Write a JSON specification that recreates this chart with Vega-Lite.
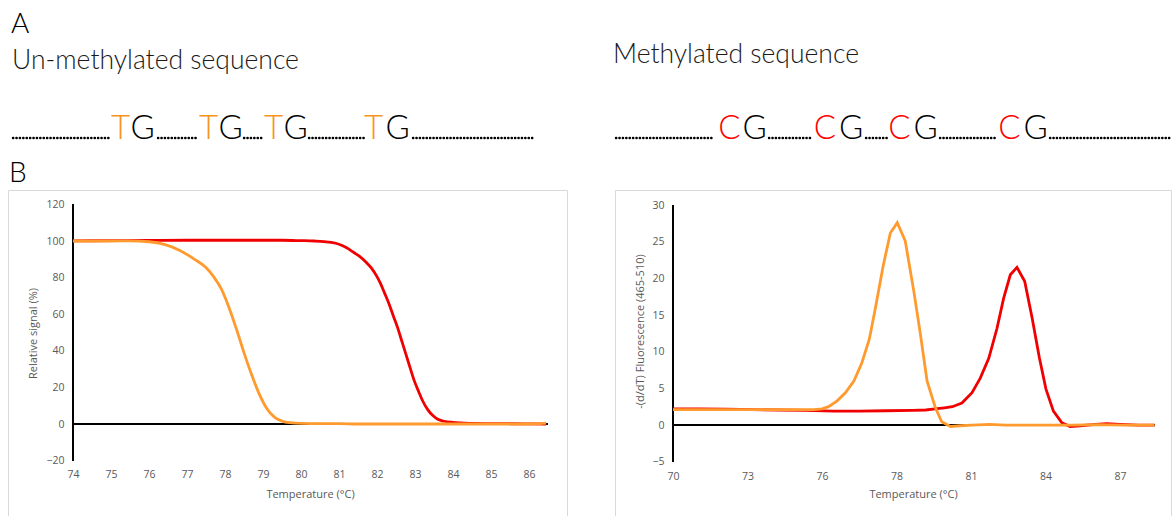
{
  "$schema": "https://vega.github.io/schema/vega-lite/v6.json",
  "padding": {"left": 7, "top": 0, "right": 0, "bottom": 0},
  "spacing": 0,
  "config": {
    "view": {"stroke": "#d9d9d9"},
    "axis": {
      "labelFont": "Open Sans",
      "labelFontSize": 10.5,
      "labelColor": "#595959",
      "titleFont": "Open Sans",
      "titleFontSize": 11,
      "titleColor": "#595959",
      "titleFontWeight": "normal",
      "grid": false,
      "domain": false,
      "ticks": false,
      "labelFlush": false,
      "labelOverlap": false
    }
  },
  "datasets": {
    "panels": [
      {"text": "A", "x": 10, "y": 33},
      {"text": "B", "x": 8, "y": 182}
    ],
    "headings": [
      {"text": "Un-methylated sequence", "x": 11, "y": 69},
      {"text": "Methylated sequence", "x": 612, "y": 63}
    ],
    "bases": [
      {"text": "T", "x": 119.5, "y": 139},
      {"text": "G", "x": 141.5, "y": 139},
      {"text": "T", "x": 207.5, "y": 139},
      {"text": "G", "x": 229.5, "y": 139},
      {"text": "T", "x": 272.5, "y": 139},
      {"text": "G", "x": 294.5, "y": 139},
      {"text": "T", "x": 372.5, "y": 139},
      {"text": "G", "x": 396.5, "y": 139},
      {"text": "C", "x": 728.5, "y": 139},
      {"text": "G", "x": 753.5, "y": 139},
      {"text": "C", "x": 824, "y": 139},
      {"text": "G", "x": 850, "y": 139},
      {"text": "C", "x": 898.5, "y": 139},
      {"text": "G", "x": 924.5, "y": 139},
      {"text": "C", "x": 1008.5, "y": 139},
      {"text": "G", "x": 1034.5, "y": 139}
    ],
    "dots": [
      {"x": 12, "x2": 110, "y": 138},
      {"x": 157, "x2": 197, "y": 138},
      {"x": 243, "x2": 263, "y": 138},
      {"x": 308, "x2": 365, "y": 138},
      {"x": 412, "x2": 532, "y": 138},
      {"x": 615, "x2": 713, "y": 138},
      {"x": 768, "x2": 810, "y": 138},
      {"x": 865, "x2": 887, "y": 138},
      {"x": 939, "x2": 996, "y": 138},
      {"x": 1049, "x2": 1170, "y": 138}
    ],
    "melt": [
      {"temp": 74, "signal": 100.1, "sample": "methylated"},
      {"temp": 75, "signal": 100.2, "sample": "methylated"},
      {"temp": 76, "signal": 100.3, "sample": "methylated"},
      {"temp": 77, "signal": 100.4, "sample": "methylated"},
      {"temp": 78, "signal": 100.4, "sample": "methylated"},
      {"temp": 79, "signal": 100.4, "sample": "methylated"},
      {"temp": 79.5, "signal": 100.4, "sample": "methylated"},
      {"temp": 80, "signal": 100.2, "sample": "methylated"},
      {"temp": 80.35, "signal": 100, "sample": "methylated"},
      {"temp": 80.6, "signal": 99.7, "sample": "methylated"},
      {"temp": 80.8, "signal": 99.2, "sample": "methylated"},
      {"temp": 81, "signal": 98.2, "sample": "methylated"},
      {"temp": 81.2, "signal": 96.3, "sample": "methylated"},
      {"temp": 81.4, "signal": 93.6, "sample": "methylated"},
      {"temp": 81.55, "signal": 91.5, "sample": "methylated"},
      {"temp": 81.7, "signal": 88.7, "sample": "methylated"},
      {"temp": 81.85, "signal": 85.3, "sample": "methylated"},
      {"temp": 82, "signal": 80.5, "sample": "methylated"},
      {"temp": 82.1, "signal": 76.4, "sample": "methylated"},
      {"temp": 82.2, "signal": 71.5, "sample": "methylated"},
      {"temp": 82.32, "signal": 65.5, "sample": "methylated"},
      {"temp": 82.43, "signal": 59, "sample": "methylated"},
      {"temp": 82.54, "signal": 52.8, "sample": "methylated"},
      {"temp": 82.65, "signal": 45.5, "sample": "methylated"},
      {"temp": 82.76, "signal": 38.2, "sample": "methylated"},
      {"temp": 82.87, "signal": 30.8, "sample": "methylated"},
      {"temp": 82.98, "signal": 23.7, "sample": "methylated"},
      {"temp": 83.1, "signal": 17.5, "sample": "methylated"},
      {"temp": 83.2, "signal": 12.7, "sample": "methylated"},
      {"temp": 83.33, "signal": 8, "sample": "methylated"},
      {"temp": 83.47, "signal": 4.6, "sample": "methylated"},
      {"temp": 83.6, "signal": 2.6, "sample": "methylated"},
      {"temp": 83.77, "signal": 1.5, "sample": "methylated"},
      {"temp": 84, "signal": 0.9, "sample": "methylated"},
      {"temp": 84.2, "signal": 0.6, "sample": "methylated"},
      {"temp": 84.5, "signal": 0.3, "sample": "methylated"},
      {"temp": 85, "signal": 0.2, "sample": "methylated"},
      {"temp": 86, "signal": 0.1, "sample": "methylated"},
      {"temp": 86.45, "signal": 0, "sample": "methylated"},
      {"temp": 74, "signal": 100, "sample": "unmethylated"},
      {"temp": 74.5, "signal": 100, "sample": "unmethylated"},
      {"temp": 75, "signal": 100, "sample": "unmethylated"},
      {"temp": 75.5, "signal": 100.1, "sample": "unmethylated"},
      {"temp": 76, "signal": 99.6, "sample": "unmethylated"},
      {"temp": 76.4, "signal": 98.2, "sample": "unmethylated"},
      {"temp": 76.8, "signal": 95, "sample": "unmethylated"},
      {"temp": 77.2, "signal": 90, "sample": "unmethylated"},
      {"temp": 77.5, "signal": 85.5, "sample": "unmethylated"},
      {"temp": 77.7, "signal": 80.5, "sample": "unmethylated"},
      {"temp": 77.9, "signal": 74, "sample": "unmethylated"},
      {"temp": 78.1, "signal": 64, "sample": "unmethylated"},
      {"temp": 78.3, "signal": 52, "sample": "unmethylated"},
      {"temp": 78.5, "signal": 39, "sample": "unmethylated"},
      {"temp": 78.7, "signal": 27, "sample": "unmethylated"},
      {"temp": 78.9, "signal": 16.5, "sample": "unmethylated"},
      {"temp": 79.1, "signal": 8.5, "sample": "unmethylated"},
      {"temp": 79.3, "signal": 3.8, "sample": "unmethylated"},
      {"temp": 79.5, "signal": 1.6, "sample": "unmethylated"},
      {"temp": 79.7, "signal": 0.7, "sample": "unmethylated"},
      {"temp": 80, "signal": 0.3, "sample": "unmethylated"},
      {"temp": 80.5, "signal": 0.2, "sample": "unmethylated"},
      {"temp": 81, "signal": 0.2, "sample": "unmethylated"},
      {"temp": 81.5, "signal": 0, "sample": "unmethylated"},
      {"temp": 82, "signal": 0, "sample": "unmethylated"},
      {"temp": 83, "signal": 0, "sample": "unmethylated"},
      {"temp": 84, "signal": 0, "sample": "unmethylated"},
      {"temp": 85, "signal": 0, "sample": "unmethylated"},
      {"temp": 86, "signal": 0, "sample": "unmethylated"},
      {"temp": 86.3, "signal": 0.2, "sample": "unmethylated"},
      {"temp": 86.45, "signal": 0.5, "sample": "unmethylated"}
    ],
    "deriv": [
      {"temp": 70, "value": 2.2, "sample": "methylated"},
      {"temp": 71, "value": 2.2, "sample": "methylated"},
      {"temp": 72, "value": 2.15, "sample": "methylated"},
      {"temp": 73, "value": 2.1, "sample": "methylated"},
      {"temp": 74, "value": 2.05, "sample": "methylated"},
      {"temp": 75, "value": 2, "sample": "methylated"},
      {"temp": 76, "value": 1.9, "sample": "methylated"},
      {"temp": 77, "value": 1.9, "sample": "methylated"},
      {"temp": 78, "value": 1.95, "sample": "methylated"},
      {"temp": 79, "value": 2, "sample": "methylated"},
      {"temp": 79.5, "value": 2.05, "sample": "methylated"},
      {"temp": 79.85, "value": 2.2, "sample": "methylated"},
      {"temp": 80.2, "value": 2.35, "sample": "methylated"},
      {"temp": 80.5, "value": 2.5, "sample": "methylated"},
      {"temp": 80.86, "value": 3, "sample": "methylated"},
      {"temp": 81.24, "value": 4.4, "sample": "methylated"},
      {"temp": 81.55, "value": 6.4, "sample": "methylated"},
      {"temp": 81.87, "value": 9.1, "sample": "methylated"},
      {"temp": 82.18, "value": 13.2, "sample": "methylated"},
      {"temp": 82.43, "value": 17.3, "sample": "methylated"},
      {"temp": 82.68, "value": 20.5, "sample": "methylated"},
      {"temp": 82.93, "value": 21.5, "sample": "methylated"},
      {"temp": 83.22, "value": 19.6, "sample": "methylated"},
      {"temp": 83.5, "value": 14.6, "sample": "methylated"},
      {"temp": 83.77, "value": 9.2, "sample": "methylated"},
      {"temp": 84.02, "value": 4.9, "sample": "methylated"},
      {"temp": 84.3, "value": 1.9, "sample": "methylated"},
      {"temp": 84.62, "value": 0.3, "sample": "methylated"},
      {"temp": 84.93, "value": -0.2, "sample": "methylated"},
      {"temp": 85.3, "value": -0.1, "sample": "methylated"},
      {"temp": 85.9, "value": 0.1, "sample": "methylated"},
      {"temp": 86.3, "value": 0.2, "sample": "methylated"},
      {"temp": 86.8, "value": 0.1, "sample": "methylated"},
      {"temp": 87.5, "value": 0, "sample": "methylated"},
      {"temp": 88.1, "value": 0, "sample": "methylated"},
      {"temp": 70, "value": 2.1, "sample": "unmethylated"},
      {"temp": 72, "value": 2.1, "sample": "unmethylated"},
      {"temp": 74, "value": 2.1, "sample": "unmethylated"},
      {"temp": 75.3, "value": 2.1, "sample": "unmethylated"},
      {"temp": 75.6, "value": 2.2, "sample": "unmethylated"},
      {"temp": 75.85, "value": 2.5, "sample": "unmethylated"},
      {"temp": 76.17, "value": 3.3, "sample": "unmethylated"},
      {"temp": 76.48, "value": 4.4, "sample": "unmethylated"},
      {"temp": 76.8, "value": 6, "sample": "unmethylated"},
      {"temp": 77.1, "value": 8.5, "sample": "unmethylated"},
      {"temp": 77.38, "value": 11.7, "sample": "unmethylated"},
      {"temp": 77.6, "value": 15.8, "sample": "unmethylated"},
      {"temp": 77.9, "value": 21.7, "sample": "unmethylated"},
      {"temp": 78.17, "value": 26.2, "sample": "unmethylated"},
      {"temp": 78.43, "value": 27.6, "sample": "unmethylated"},
      {"temp": 78.73, "value": 25.1, "sample": "unmethylated"},
      {"temp": 79.05, "value": 18.3, "sample": "unmethylated"},
      {"temp": 79.3, "value": 12.4, "sample": "unmethylated"},
      {"temp": 79.55, "value": 6, "sample": "unmethylated"},
      {"temp": 79.86, "value": 2.4, "sample": "unmethylated"},
      {"temp": 80.1, "value": 0.45, "sample": "unmethylated"},
      {"temp": 80.43, "value": -0.2, "sample": "unmethylated"},
      {"temp": 80.8, "value": -0.1, "sample": "unmethylated"},
      {"temp": 81.24, "value": 0, "sample": "unmethylated"},
      {"temp": 81.9, "value": 0.1, "sample": "unmethylated"},
      {"temp": 82.5, "value": 0, "sample": "unmethylated"},
      {"temp": 84, "value": 0, "sample": "unmethylated"},
      {"temp": 85, "value": 0, "sample": "unmethylated"},
      {"temp": 86, "value": 0.05, "sample": "unmethylated"},
      {"temp": 87, "value": 0, "sample": "unmethylated"},
      {"temp": 88.1, "value": 0, "sample": "unmethylated"}
    ]
  },
  "vconcat": [
    {
      "width": 1165,
      "height": 189,
      "view": {"stroke": null},
      "encoding": {
        "x": {"field": "x", "type": "quantitative", "scale": {"domain": [7, 1172], "nice": false, "zero": false}, "axis": null},
        "y": {"field": "y", "type": "quantitative", "scale": {"domain": [189, 0], "nice": false, "zero": false}, "axis": null}
      },
      "layer": [
        {
          "data": {"name": "dots"},
          "mark": {"type": "rule", "color": "#000000", "strokeWidth": 2.4, "strokeDash": [0.3, 3.1], "strokeCap": "round"},
          "encoding": {"x2": {"field": "x2"}}
        },
        {
          "data": {"name": "panels"},
          "mark": {"type": "text", "font": "Lato", "fontWeight": 300, "fontSize": 28, "align": "left", "baseline": "alphabetic", "color": "#000000"},
          "encoding": {"text": {"field": "text"}}
        },
        {
          "data": {"name": "headings"},
          "mark": {"type": "text", "font": "Lato", "fontWeight": 300, "fontSize": 26.5, "align": "left", "baseline": "alphabetic", "color": "#1a1a1a"},
          "encoding": {"text": {"field": "text"}}
        },
        {
          "data": {"name": "bases"},
          "mark": {"type": "text", "font": "Lato", "fontWeight": 300, "fontSize": 33, "align": "center", "baseline": "alphabetic"},
          "encoding": {
            "text": {"field": "text"},
            "color": {"field": "text", "type": "nominal", "scale": {"domain": ["T", "C", "G"], "range": ["#F7941D", "#FF0000", "#000000"]}, "legend": null}
          }
        }
      ]
    },
    {
      "spacing": 46,
      "hconcat": [
        {
          "width": 559,
          "height": 326,
          "data": {"name": "melt"},
          "encoding": {
            "x": {
              "field": "temp", "type": "quantitative",
              "scale": {"domain": [72.29, 87.0], "nice": false, "zero": false},
              "axis": {"values": [74, 75, 76, 77, 78, 79, 80, 81, 82, 83, 84, 85, 86], "offset": -56, "labelPadding": 9, "title": "Temperature (°C)", "titleX": 302, "titleY": 34, "titleBaseline": "middle", "titleAlign": "center"}
            },
            "y": {
              "field": "signal", "type": "quantitative",
              "scale": {"domain": [-50.27, 127.87], "nice": false, "zero": false},
              "axis": {"values": [-20, 0, 20, 40, 60, 80, 100, 120], "offset": -65, "labelPadding": 9, "title": "Relative signal (%)", "titleX": -40, "titleY": 143, "titleAngle": -90, "titleBaseline": "middle", "titleAlign": "center"}
            }
          },
          "layer": [
            {
              "mark": {"type": "rule", "color": "#000000", "strokeWidth": 1},
              "encoding": {"x": {"datum": 74}, "x2": {"datum": 86.5}, "y": {"datum": 0}}
            },
            {
              "mark": {"type": "rule", "color": "#000000", "strokeWidth": 1},
              "encoding": {"x": {"datum": 74}, "y": {"datum": -20}, "y2": {"datum": 120}}
            },
            {
              "transform": [{"filter": "datum.sample == 'methylated'"}],
              "mark": {"type": "line", "color": "#F00000", "strokeWidth": 2.8, "interpolate": "monotone"}
            },
            {
              "transform": [{"filter": "datum.sample == 'unmethylated'"}],
              "mark": {"type": "line", "color": "#FF9A2E", "strokeWidth": 2.8, "interpolate": "monotone"}
            }
          ]
        },
        {
          "width": 556,
          "height": 326,
          "data": {"name": "deriv"},
          "encoding": {
            "x": {
              "field": "temp", "type": "quantitative",
              "scale": {"domain": [67.82, 88.72], "nice": false, "zero": false},
              "axis": {"values": [70, 72.8, 75.6, 78.4, 81.2, 84, 86.8], "format": ".0f", "offset": -54, "labelPadding": 9, "title": "Temperature (°C)", "titleX": 298, "titleY": 32, "titleBaseline": "middle", "titleAlign": "center"}
            },
            "y": {
              "field": "value", "type": "quantitative",
              "scale": {"domain": [-12.41, 32.06], "nice": false, "zero": false},
              "axis": {"values": [-5, 0, 5, 10, 15, 20, 25, 30], "offset": -58, "labelPadding": 9, "title": "-(d/dT) Fluorescence (465-510)", "titleX": -33, "titleY": 141, "titleAngle": -90, "titleBaseline": "middle", "titleAlign": "center"}
            }
          },
          "layer": [
            {
              "mark": {"type": "rule", "color": "#000000", "strokeWidth": 1},
              "encoding": {"x": {"datum": 70}, "x2": {"datum": 88.1}, "y": {"datum": 0}}
            },
            {
              "mark": {"type": "rule", "color": "#000000", "strokeWidth": 1},
              "encoding": {"x": {"datum": 70}, "y": {"datum": -5}, "y2": {"datum": 30}}
            },
            {
              "transform": [{"filter": "datum.sample == 'methylated'"}],
              "mark": {"type": "line", "color": "#F00000", "strokeWidth": 2.8}
            },
            {
              "transform": [{"filter": "datum.sample == 'unmethylated'"}],
              "mark": {"type": "line", "color": "#FF9A2E", "strokeWidth": 2.8}
            }
          ]
        }
      ]
    }
  ]
}
